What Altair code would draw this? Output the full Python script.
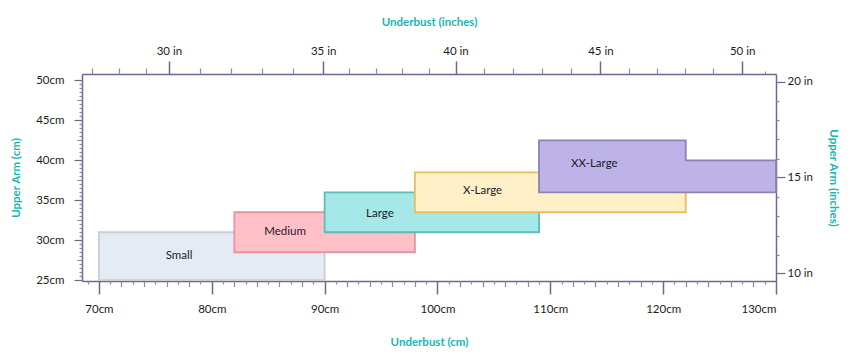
import altair as alt
import pandas as pd

# ---------------- data ----------------
sizes = ["Small", "Medium", "Large", "X-Large"]
underbust_min = [70, 82, 90, 98]
underbust_max = [90, 98, 109, 122]
upper_arm_min = [25, 28.5, 31, 33.5]
upper_arm_max = [31, 33.5, 36, 38.5]

# XX-Large is a stepped shape
xxl_name = "XX-Large"
xxl_underbust = [109, 122, 130]
xxl_upper_arm_top = [42.5, 40, 40]
xxl_upper_arm_bottom = [36, 36, 36]

label_names = ["Small", "Medium", "Large", "X-Large", "XX-Large"]
label_underbust = [77.1, 86.5, 94.9, 104.0, 113.9]
label_upper_arm = [28.0, 31.0, 33.3, 36.2, 39.6]

# axis ticks (cm scale)
bottom_major = [70, 80, 90, 100, 110, 120, 130]
bottom_minor_even = [72, 74, 76, 78, 82, 84, 86, 88, 92, 94, 96, 98, 102, 104, 106, 108,
                     112, 114, 116, 118, 122, 124, 126, 128]
bottom_minor_odd = [69, 71, 73, 75, 77, 79, 81, 83, 85, 87, 89, 91, 93, 95, 97, 99, 101, 103,
                    105, 107, 109, 111, 113, 115, 117, 119, 121, 123, 125, 127, 129]
left_major = [25, 30, 35, 40, 45, 50]
left_minor_mid = [27.5, 32.5, 37.5, 42.5, 47.5]
left_minor = [25.5, 26, 26.5, 27, 28, 28.5, 29, 29.5, 30.5, 31, 31.5, 32, 33, 33.5, 34, 34.5,
              35.5, 36, 36.5, 37, 38, 38.5, 39, 39.5, 40.5, 41, 41.5, 42, 43, 43.5, 44, 44.5,
              45.5, 46, 46.5, 47, 48, 48.5, 49, 49.5]

# inch ticks, as positioned on the cm scales
top_inch_pos = [76.2, 89.87, 101.6, 114.44, 127.0]
top_inch_labels = ["30 in", "35 in", "40 in", "45 in", "50 in"]
top_inch_minor = [69.35, 71.78, 74.21, 78.96, 81.69, 84.41, 87.17, 92.19, 94.56, 96.89, 99.24,
                  104.14, 106.72, 109.29, 111.86, 116.95, 119.43, 121.92, 124.45]
top_inch_tiny = [129.02]
right_inch_pos = [25.84, 37.85, 49.82]
right_inch_labels = ["10 in", "15 in", "20 in"]
right_inch_minor = [28.17, 30.59, 33.01, 35.43, 40.18, 42.61, 45.03, 47.40]

# ---------------- styles ----------------
FONT = "Lato"
fills = ["#e5ebf5", "#ffc0c8", "#a6e7e7", "#fff0c8", "#beb3e8"]
strokes = ["#cbcdd3", "#e8939d", "#5ebdb5", "#e7be5c", "#8c81b5"]
AXIS_COLOR = "#6c6891"
MINOR_COLOR = "#8a86ad"
TITLE_COLOR = "#19b5b0"

xs = alt.Scale(domain=[68.5, 130], nice=False, zero=False)
ys = alt.Scale(domain=[24.9, 50.8], nice=False, zero=False)


def label_expr(positions, labels):
    expr = "''"
    for p, l in zip(reversed(positions), reversed(labels)):
        expr = f"abs(datum.value - {p}) < 0.01 ? '{l}' : ({expr})"
    return expr


common = dict(grid=False, labelFont=FONT, labelFontSize=11.5, labelColor="#1c1c1c",
              titleFont=FONT, titleFontSize=11.5, titleFontWeight="bold", titleColor=TITLE_COLOR,
              domainColor=AXIS_COLOR, tickColor=AXIS_COLOR)

rects = pd.DataFrame({"size": sizes, "x": underbust_min, "x2": underbust_max,
                      "y": upper_arm_min, "y2": upper_arm_max})
xxl = pd.DataFrame({"size": [xxl_name] * 3, "x": xxl_underbust, "y": xxl_upper_arm_top,
                    "y2": xxl_upper_arm_bottom})
labels = pd.DataFrame({"size": label_names, "x": label_underbust, "y": label_upper_arm})

fill_scale = alt.Scale(domain=label_names, range=fills)
stroke_scale = alt.Scale(domain=label_names, range=strokes)

rect_layer = alt.Chart(rects).mark_rect(strokeWidth=1.8).encode(
    x=alt.X("x:Q", scale=xs, axis=None),
    x2="x2:Q",
    y=alt.Y("y:Q", scale=ys, axis=None),
    y2="y2:Q",
    fill=alt.Fill("size:N", scale=fill_scale, legend=None),
    stroke=alt.Stroke("size:N", scale=stroke_scale, legend=None),
    order=alt.Order("x:Q"),
)

xxl_layer = alt.Chart(xxl).mark_area(interpolate="step-after", strokeWidth=1.8).encode(
    x=alt.X("x:Q", scale=xs, axis=None),
    y=alt.Y("y:Q", scale=ys, axis=None),
    y2="y2:Q",
    fill=alt.Fill("size:N", scale=fill_scale, legend=None),
    stroke=alt.Stroke("size:N", scale=stroke_scale, legend=None),
)

text_layer = alt.Chart(labels).mark_text(font=FONT, fontSize=11.5, color="#1a1a2a").encode(
    x=alt.X("x:Q", scale=xs, axis=None),
    y=alt.Y("y:Q", scale=ys, axis=None),
    text="size:N",
)

dummy = pd.DataFrame({"x": [100], "y": [30]})


def axis_layer(x_axis, y_axis):
    return alt.Chart(dummy).mark_point(opacity=0).encode(
        x=alt.X("x:Q", scale=xs, axis=x_axis),
        y=alt.Y("y:Q", scale=ys, axis=y_axis),
    )


ax1 = axis_layer(
    alt.Axis(orient="bottom", values=bottom_major, labelExpr="datum.value + 'cm'",
             tickSize=13, tickWidth=1.5, domainWidth=1.5, labelPadding=9,
             title="Underbust (cm)", titlePadding=22, **common),
    alt.Axis(orient="left", values=left_major, labelExpr="datum.value + 'cm'",
             tickSize=8, tickWidth=1.2, domainWidth=1.5, labelPadding=10,
             title="Upper Arm (cm)", titlePadding=14, **common),
)
ax2 = axis_layer(
    alt.Axis(orient="top", values=top_inch_pos, labelExpr=label_expr(top_inch_pos, top_inch_labels),
             tickSize=13, tickWidth=1.5, domainWidth=1.5, labelPadding=5,
             title="Underbust (inches)", titlePadding=18, **common),
    alt.Axis(orient="right", values=right_inch_pos,
             labelExpr=label_expr(right_inch_pos, right_inch_labels),
             tickSize=9, tickWidth=1.2, domainWidth=1.5, labelPadding=2,
             title="Upper Arm (inches)", titleAngle=90, titlePadding=15, **common),
)
minor = dict(grid=False, labels=False, domain=False, title=None, tickColor=MINOR_COLOR, tickWidth=1.2)
ax3 = axis_layer(
    alt.Axis(orient="bottom", values=bottom_minor_even, tickSize=5.5, **minor),
    alt.Axis(orient="left", values=left_minor, tickSize=3, **minor),
)
ax4 = axis_layer(
    alt.Axis(orient="bottom", values=bottom_minor_odd, tickSize=3, **minor),
    alt.Axis(orient="left", values=left_minor_mid, tickSize=5, **minor),
)
ax5 = axis_layer(
    alt.Axis(orient="top", values=top_inch_minor, tickSize=6, **minor),
    alt.Axis(orient="right", values=right_inch_minor, tickSize=3, **minor),
)
ax6 = axis_layer(
    alt.Axis(orient="top", values=top_inch_tiny, tickSize=3, **minor),
    None,
)

chart = alt.layer(rect_layer, xxl_layer, text_layer, ax1, ax2, ax3, ax4, ax5, ax6).resolve_axis(
    x="independent", y="independent"
).properties(
    width=694, height=207,
    autosize=alt.AutoSizeParams(type="none"),
    padding={"left": 74, "top": 66, "right": 66, "bottom": 70},
    background="white",
).configure_view(stroke=None)

chart.save("out.html", embed_options={"renderer": "svg", "actions": False})
